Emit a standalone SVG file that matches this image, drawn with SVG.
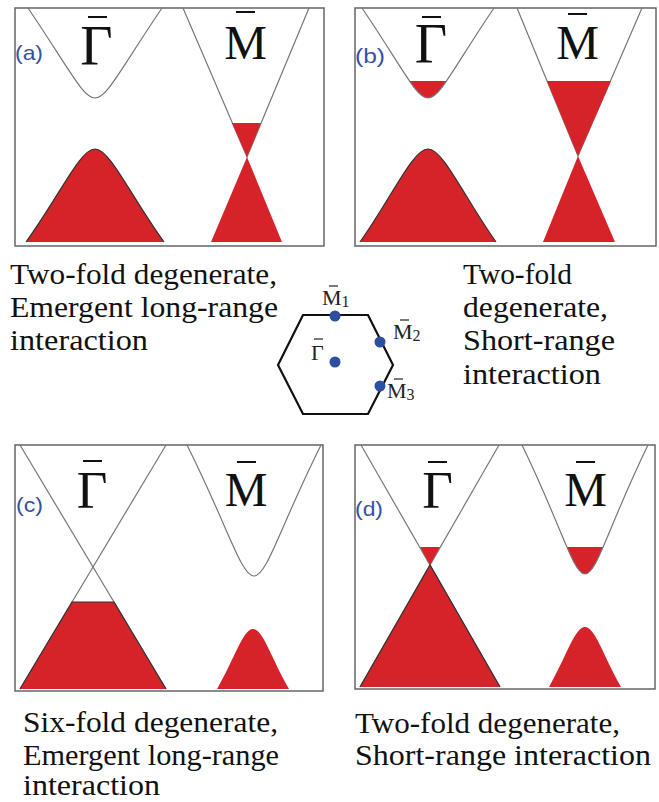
<svg xmlns="http://www.w3.org/2000/svg" width="659" height="802" viewBox="0 0 659 802">
<style>
.frame{fill:none;stroke:#666;stroke-width:1.5}
.band{fill:none;stroke:#777;stroke-width:1.2}
.red{fill:#d6232a}
.edge{fill:none;stroke:#333;stroke-width:1.2}
.sym{font-family:"Liberation Serif",serif;fill:#111;text-anchor:middle}
.bar{stroke:#111;stroke-width:2}
.tag{font-family:"Liberation Sans",sans-serif;fill:#3352a3;font-size:21px}
.cap{font-family:"Liberation Serif",serif;font-size:29px;fill:#111}
.dot{fill:#2d4fa0}
.hex{fill:none;stroke:#111;stroke-width:2.2;stroke-linejoin:miter}
.bzl{font-family:"Liberation Serif",serif;fill:#222;font-size:22px}
.sub{font-size:16px}
.sbar{stroke:#222;stroke-width:1.2}
</style>
<defs>
<clipPath id="clipB"><rect x="355" y="81" width="150" height="40"/></clipPath>
<clipPath id="clipD"><rect x="500" y="547" width="155" height="40"/></clipPath>
</defs>
<rect width="659" height="802" fill="#fff"/>

<g id="panel-a">
<rect class="frame" x="15" y="8" width="309" height="238"/>
<path class="band" d="M28,8 C70,70 83,98 95,98 C107,98 120,70 162,8"/>
<path class="red" d="M26,242 C60,195 80,149 95,149 C110,149 130,195 164,242 Z"/>
<path class="edge" d="M26,242 C60,195 80,149 95,149 C110,149 130,195 164,242"/>
<polyline class="band" points="183,8 247,157 309,8"/>
<polygon class="red" points="232,123 261,123 247,157"/>
<polygon class="red" points="247,157 282,242 211,242"/>
<text class="sym" x="96.5" y="65" font-size="56">Γ</text>
<line class="bar" x1="88" y1="17" x2="107" y2="17"/>
<text class="sym" x="245.5" y="59" font-size="48">M</text>
<line class="bar" x1="236" y1="12" x2="255" y2="12"/>
<text class="tag" x="15" y="60" textLength="28" lengthAdjust="spacingAndGlyphs">(a)</text>
</g>

<g id="panel-b">
<rect class="frame" x="355" y="8" width="301" height="238"/>
<path class="red" clip-path="url(#clipB)" d="M362,8 C404,70 416,98 428,98 C440,98 452,70 494,8 Z"/>
<path class="band" d="M362,8 C404,70 416,98 428,98 C440,98 452,70 494,8"/>
<path class="red" d="M360,242 C393,195 413,149 428,149 C443,149 463,195 496,242 Z"/>
<path class="edge" d="M360,242 C393,195 413,149 428,149 C443,149 463,195 496,242"/>
<polyline class="band" points="517,8 578,156 642,8"/>
<polygon class="red" points="547,81 611,81 578,156"/>
<polygon class="red" points="578,156 615,242 543,242"/>
<text class="sym" x="431" y="63" font-size="56">Γ</text>
<line class="bar" x1="422" y1="17" x2="441" y2="17"/>
<text class="sym" x="577.5" y="59" font-size="48">M</text>
<line class="bar" x1="568" y1="14" x2="587" y2="14"/>
<text class="tag" x="355" y="63" textLength="30" lengthAdjust="spacingAndGlyphs">(b)</text>
</g>

<g id="brillouin-zone">
<polygon class="hex" points="303,315 368,315 393,365 368,414 303,414 278,365"/>
<circle class="dot" cx="335" cy="316" r="5.5"/>
<circle class="dot" cx="380" cy="342" r="5.5"/>
<circle class="dot" cx="380" cy="386" r="5.5"/>
<circle class="dot" cx="335" cy="362" r="5.5"/>
<text class="bzl" x="322" y="305">M<tspan class="sub" dy="2">1</tspan></text>
<line class="sbar" x1="329" y1="286" x2="338" y2="286"/>
<text class="bzl" x="393" y="339">M<tspan class="sub" dy="2">2</tspan></text>
<line class="sbar" x1="400" y1="320" x2="409" y2="320"/>
<text class="bzl" x="387" y="398">M<tspan class="sub" dy="2">3</tspan></text>
<line class="sbar" x1="394" y1="379" x2="403" y2="379"/>
<text class="bzl" x="311" y="360" font-size="24">Γ</text>
<line class="sbar" x1="314" y1="339" x2="323" y2="339"/>
</g>

<g id="panel-c">
<rect class="frame" x="15" y="445" width="308" height="246"/>
<line class="band" x1="20" y1="445" x2="166" y2="689"/>
<line class="band" x1="166" y1="445" x2="20" y2="689"/>
<polygon class="red" points="72,602 114,602 166,689 20,689"/>
<polyline class="edge" points="20,689 72,602 114,602 166,689"/>
<path class="band" d="M187,445 C228,527 241,576 254,576 C267,576 280,527 321,445"/>
<path class="red" d="M217,689 C235,658 243,629 253,629 C263,629 271,658 289,689 Z"/>
<text class="sym" x="92" y="508" font-size="53">Γ</text>
<line class="bar" x1="83" y1="461" x2="102" y2="461"/>
<text class="sym" x="246" y="506" font-size="48">M</text>
<line class="bar" x1="237" y1="462" x2="256" y2="462"/>
<text class="tag" x="16" y="512" textLength="27" lengthAdjust="spacingAndGlyphs">(c)</text>
</g>

<g id="panel-d">
<rect class="frame" x="355" y="445" width="300" height="244"/>
<line class="band" x1="361" y1="445" x2="500" y2="687"/>
<line class="band" x1="499" y1="445" x2="360" y2="687"/>
<polygon class="red" points="420,547 440,547 430,565"/>
<polygon class="red" points="430,565 500,687 360,687"/>
<polyline class="edge" points="360,687 430,565 500,687"/>
<path class="red" clip-path="url(#clipD)" d="M522,445 C561,525 573,574 585,574 C597,574 609,525 648,445 Z"/>
<path class="band" d="M522,445 C561,525 573,574 585,574 C597,574 609,525 648,445"/>
<path class="red" d="M549,687 C567,655 575,627 585,627 C595,627 603,655 621,687 Z"/>
<text class="sym" x="437.5" y="508" font-size="53">Γ</text>
<line class="bar" x1="428" y1="462" x2="447" y2="462"/>
<text class="sym" x="585.5" y="506" font-size="48">M</text>
<line class="bar" x1="576" y1="462" x2="595" y2="462"/>
<text class="tag" x="355" y="516" textLength="28" lengthAdjust="spacingAndGlyphs">(d)</text>
</g>

<g id="captions">
<text class="cap" x="10" y="284" textLength="267" lengthAdjust="spacingAndGlyphs">Two-fold degenerate,</text>
<text class="cap" x="10" y="317" textLength="268" lengthAdjust="spacingAndGlyphs">Emergent long-range</text>
<text class="cap" x="10" y="350" textLength="138" lengthAdjust="spacingAndGlyphs">interaction</text>
<text class="cap" x="463" y="284" textLength="109" lengthAdjust="spacingAndGlyphs">Two-fold</text>
<text class="cap" x="463" y="317" textLength="145" lengthAdjust="spacingAndGlyphs">degenerate,</text>
<text class="cap" x="463" y="350" textLength="152" lengthAdjust="spacingAndGlyphs">Short-range</text>
<text class="cap" x="463" y="384" textLength="138" lengthAdjust="spacingAndGlyphs">interaction</text>
<text class="cap" x="23" y="732" textLength="255" lengthAdjust="spacingAndGlyphs">Six-fold degenerate,</text>
<text class="cap" x="23" y="765" textLength="256" lengthAdjust="spacingAndGlyphs">Emergent long-range</text>
<text class="cap" x="23" y="795" textLength="137" lengthAdjust="spacingAndGlyphs">interaction</text>
<text class="cap" x="355" y="733" textLength="265" lengthAdjust="spacingAndGlyphs">Two-fold degenerate,</text>
<text class="cap" x="355" y="765" textLength="296" lengthAdjust="spacingAndGlyphs">Short-range interaction</text>
</g>
</svg>
